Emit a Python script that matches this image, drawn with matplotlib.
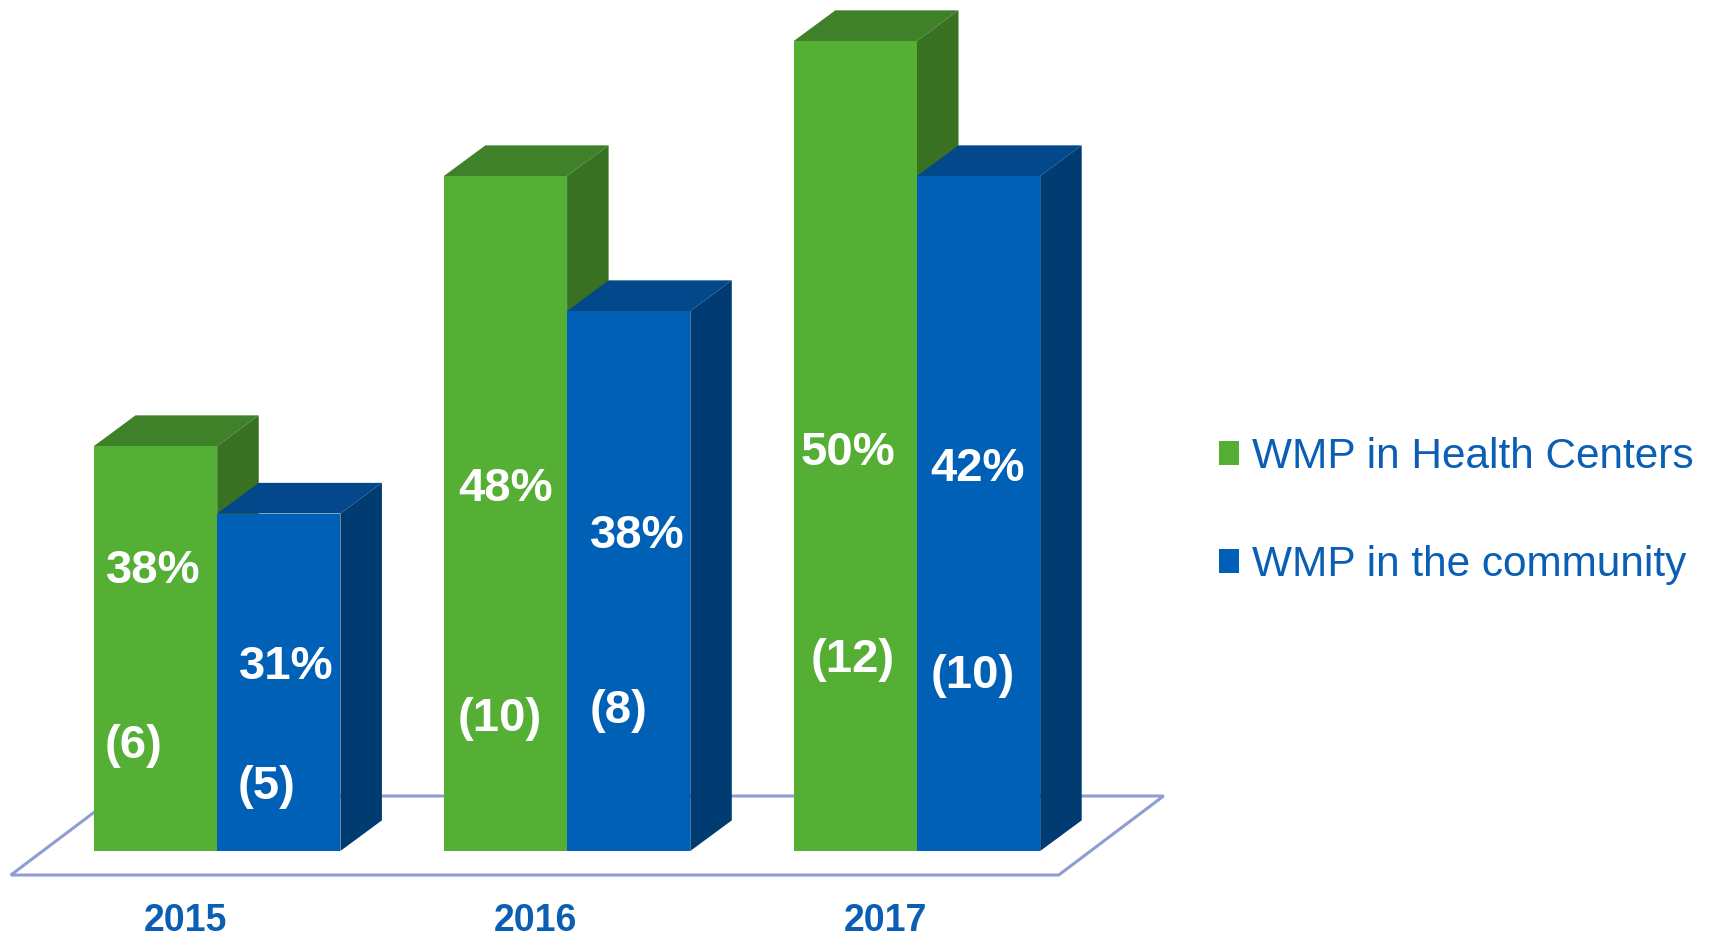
import matplotlib
matplotlib.use("Agg")
import matplotlib.pyplot as plt
from matplotlib.patches import Polygon, Patch

plt.rcParams['font.family'] = ['Liberation Sans', 'DejaVu Sans']

# ---- data ----
years = ["2015", "2016", "2017"]
series_names = ["WMP in Health Centers", "WMP in the community"]
health_counts = [6, 10, 12]
community_counts = [5, 8, 10]
health_pct = ["38%", "48%", "50%"]
community_pct = ["31%", "38%", "42%"]

# ---- layout / style ----
W_PX, H_PX, DPI = 1715, 936, 100
bar_w = 1.0
group_step = 2.84
depth_dx, depth_dy = 0.337, 0.454
front_cols = ["#55AF34", "#0060B6"]
top_cols = ["#3F8128", "#02488A"]
side_cols = ["#377121", "#003B71"]
floor_col = "#8E9ED2"
text_blue = "#0A5FB4"

# label offsets relative to each bar's left edge (x) and absolute height (y)
pct_pos = [[(0.48, 4.15), (0.56, 2.72)],
           [(0.50, 5.36), (0.57, 4.66)],
           [(0.44, 5.90), (0.49, 5.66)]]
cnt_pos = [[(0.32, 1.55), (0.40, 0.95)],
           [(0.45, 1.96), (0.42, 2.08)],
           [(0.48, 2.83), (0.45, 2.60)]]

fig = plt.figure(figsize=(W_PX / DPI, H_PX / DPI), dpi=DPI)
ax = fig.add_axes([0, 0, 1, 1])
ax.set_xlim(-94 / 123.2, (W_PX - 94) / 123.2)
ax.set_ylim(-85 / 67.5, (H_PX - 85) / 67.5)
ax.axis("off")

# floor parallelogram
n = len(years)
fx0, fx1 = -0.675, (n - 1) * group_step + 2 * bar_w + 0.15
fy0, fy1 = -0.356, 0.815
fdx = (fy1 - fy0) * depth_dx / depth_dy * 0.98
floor = Polygon([(fx0, fy0), (fx1, fy0), (fx1 + fdx, fy1), (fx0 + fdx, fy1)],
                closed=True, fill=False, edgecolor=floor_col, lw=2.2, zorder=1)
ax.add_patch(floor)


def draw_box(x0, h, k):
    ax.bar(x0, h, width=bar_w, align="edge", color=front_cols[k],
           linewidth=0, zorder=3)
    ax.add_patch(Polygon([(x0, h), (x0 + bar_w, h),
                          (x0 + bar_w + depth_dx, h + depth_dy),
                          (x0 + depth_dx, h + depth_dy)],
                         closed=True, facecolor=top_cols[k], lw=0, zorder=3))
    ax.add_patch(Polygon([(x0 + bar_w, 0), (x0 + bar_w + depth_dx, depth_dy),
                          (x0 + bar_w + depth_dx, h + depth_dy), (x0 + bar_w, h)],
                         closed=True, facecolor=side_cols[k], lw=0, zorder=3))


for i in range(n):
    gx = i * group_step
    vals = [health_counts[i], community_counts[i]]
    pcts = [health_pct[i], community_pct[i]]
    for k in range(2):
        x0 = gx + k * bar_w
        draw_box(x0, vals[k], k)
        px, py = pct_pos[i][k]
        ax.text(x0 + px, py, pcts[k], color="white", fontsize=34,
                fontweight="bold", ha="center", va="center", zorder=5)
        cx, cy = cnt_pos[i][k]
        ax.text(x0 + cx, cy, f"({vals[k]})", color="white", fontsize=34,
                fontweight="bold", ha="center", va="center", zorder=5)
    ax.text(gx + 0.74, -1.03, years[i], color=text_blue, fontsize=27,
            fontweight="bold", ha="center", va="center")

handles = [Patch(facecolor=front_cols[0], edgecolor="none"),
           Patch(facecolor=front_cols[1], edgecolor="none")]
fig.legend(handles, series_names, loc="center left",
           bbox_to_anchor=(1219 / W_PX, 1 - 511 / H_PX),
           frameon=False, fontsize=30.5, labelcolor=text_blue,
           handlelength=0.48, handleheight=0.48, handletextpad=0.3,
           labelspacing=1.6, borderpad=0, borderaxespad=0)

fig.savefig("out.png", dpi=DPI)
